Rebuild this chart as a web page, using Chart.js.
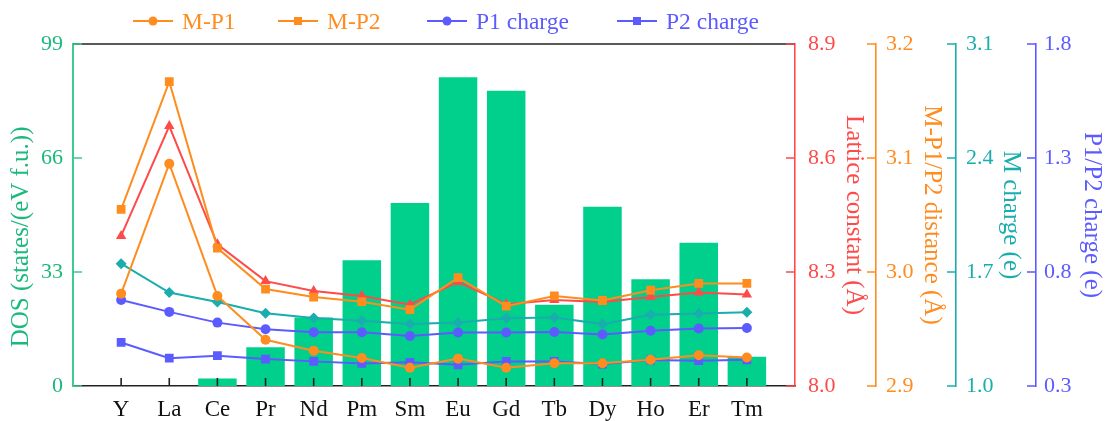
<!DOCTYPE html>
<html>
<head>
<meta charset="utf-8">
<script src="https://cdn.jsdelivr.net/npm/chart.js@4"></script>
<style>
  body { margin: 0; background: #fff; }
  #wrap { position: relative; width: 1105px; height: 421px; }
  #legend { position: absolute; left: 0; top: 0; width: 1105px; height: 44px; font-family: "Liberation Serif", "Times New Roman", serif; font-size: 23.5px; }
  .item { position: absolute; top: 8px; display: flex; align-items: center; gap: 9px; line-height: 26px; }
</style>
</head>
<body>
<div id="wrap">
  <canvas id="chart" width="1105" height="421"></canvas>
  <div id="legend"></div>
</div>
<script>
// categories and values
const categories = ['Y', 'La', 'Ce', 'Pr', 'Nd', 'Pm', 'Sm', 'Eu', 'Gd', 'Tb', 'Dy', 'Ho', 'Er', 'Tm'];
const dosValues = [null, null, 2.2, 11.2, 19.8, 36.4, 53.0, 89.4, 85.5, 23.5, 51.9, 30.9, 41.5, 8.5];
const latticeConstant = [8.395, 8.684, 8.373, 8.276, 8.250, 8.237, 8.214, 8.274, 8.215, 8.226, 8.221, 8.234, 8.246, 8.241];
const mp1Distance = [2.981, 3.095, 2.979, 2.9405, 2.931, 2.9245, 2.916, 2.924, 2.916, 2.920, 2.920, 2.923, 2.927, 2.925];
const mp2Distance = [3.055, 3.167, 3.021, 2.985, 2.978, 2.974, 2.967, 2.995, 2.970, 2.979, 2.975, 2.984, 2.990, 2.990];
const mCharge = [1.751, 1.574, 1.516, 1.447, 1.418, 1.400, 1.380, 1.390, 1.416, 1.421, 1.380, 1.437, 1.445, 1.453];
const p1Charge = [0.677, 0.625, 0.578, 0.549, 0.536, 0.536, 0.519, 0.535, 0.535, 0.537, 0.526, 0.542, 0.552, 0.554];
const p2Charge = [0.491, 0.422, 0.433, 0.418, 0.408, 0.399, 0.404, 0.393, 0.408, 0.408, 0.396, 0.414, 0.411, 0.415];

// tick labels of each axis
const dosTicks = [0, 33, 66, 99];
const latticeTicks = [8.0, 8.3, 8.6, 8.9];
const distanceTicks = [2.9, 3.0, 3.1, 3.2];
const mChargeTicks = [1.0, 1.7, 2.4, 3.1];
const pChargeTicks = [0.3, 0.8, 1.3, 1.8];

const GREEN = '#00D08C';
const GREEN_TEXT = '#1BB97C';
const GREEN_AXIS = '#3DCB8E';
const RED = '#FF4A4A';
const ORANGE = '#FF8C1F';
const TEAL = '#1AADAD';
const BLUE = '#5B5BFF';

Chart.defaults.font.family = '"Liberation Serif", "Times New Roman", serif';

// one empty slot at each end so the points sit one category in from the frame
const labels = ['', ...categories, ''];
function padded(values) {
    return [null, ...values, null];
}

function lineSet(label, values, axis, color, pointStyle, radius, order) {
    return {
        type: 'line',
        label: label,
        data: padded(values),
        yAxisID: axis,
        borderColor: color,
        backgroundColor: color,
        pointBackgroundColor: color,
        pointBorderWidth: 0,
        pointStyle: pointStyle,
        pointRadius: radius,
        borderWidth: 2,
        order: order
    };
}

function rightAxis(ticks, color, title, tickPad, titlePad) {
    return {
        position: 'right',
        min: ticks[0],
        max: ticks[ticks.length - 1],
        afterBuildTicks: scale => { scale.ticks = ticks.map(v => ({ value: v })); },
        grid: { display: false, drawTicks: false },
        border: { display: true, color: color, width: 1.6 },
        ticks: {
            color: color,
            padding: tickPad,
            font: { size: 22 },
            callback: v => v.toFixed(1)
        },
        title: {
            display: true,
            text: title,
            color: color,
            font: { size: 25, lineHeight: 1 },
            padding: titlePad
        }
    };
}

// ticks pointing into the plot, and the black top edge of the frame
const innerTicks = {
    id: 'innerTicks',
    afterDraw(chart) {
        const ctx = chart.ctx;
        const area = chart.chartArea;
        ctx.save();
        ctx.lineWidth = 1.6;
        ctx.strokeStyle = '#222';
        ctx.beginPath();
        ctx.moveTo(area.left, area.top);
        ctx.lineTo(area.right, area.top);
        ctx.stroke();
        Object.values(chart.scales).forEach(scale => {
            ctx.strokeStyle = scale.options.border.color;
            ctx.beginPath();
            scale.ticks.forEach((tick, i) => {
                if (scale.axis === 'x') {
                    if (!labels[tick.value]) return;
                    const x = scale.getPixelForTick(i);
                    ctx.moveTo(x, scale.top);
                    ctx.lineTo(x, scale.top - 8);
                } else {
                    const y = scale.getPixelForValue(tick.value);
                    const left = scale.position === 'left';
                    const x0 = left ? scale.right : scale.left;
                    ctx.moveTo(x0, y);
                    ctx.lineTo(x0 + (left ? 9 : -9), y);
                }
            });
            ctx.stroke();
        });
        ctx.restore();
    }
};

new Chart(document.getElementById('chart'), {
    type: 'bar',
    data: {
        labels: labels,
        datasets: [
            {
                type: 'bar',
                label: 'DOS',
                data: padded(dosValues),
                yAxisID: 'yDos',
                backgroundColor: GREEN,
                barPercentage: 0.8,
                categoryPercentage: 1,
                order: 10
            },
            lineSet('M charge', mCharge, 'yM', TEAL, 'rectRot', 5.5, 6),
            lineSet('P2 charge', p2Charge, 'yP', BLUE, 'rect', 6.2, 5),
            lineSet('P1 charge', p1Charge, 'yP', BLUE, 'circle', 5, 4),
            lineSet('Lattice constant', latticeConstant, 'yLat', RED, 'triangle', 6, 3),
            lineSet('M-P1', mp1Distance, 'yDist', ORANGE, 'circle', 5, 2),
            lineSet('M-P2', mp2Distance, 'yDist', ORANGE, 'rect', 6.2, 1)
        ]
    },
    options: {
        responsive: false,
        animation: false,
        devicePixelRatio: 1,
        layout: { padding: { top: 44, right: 0, bottom: 0, left: 0 } },
        plugins: {
            legend: { display: false },
            tooltip: { enabled: false }
        },
        scales: {
            x: {
                type: 'category',
                offset: false,
                grid: { display: true, drawOnChartArea: false, drawTicks: true, tickLength: 12, tickColor: 'rgba(0,0,0,0)' },
                border: { display: true, color: '#222', width: 1.6 },
                ticks: {
                    color: '#111',
                    padding: 0,
                    autoSkip: false,
                    maxRotation: 0,
                    minRotation: 0,
                    font: { size: 23, lineHeight: 1 }
                }
            },
            yDos: {
                position: 'left',
                min: dosTicks[0],
                max: dosTicks[dosTicks.length - 1],
                afterBuildTicks: scale => { scale.ticks = dosTicks.map(v => ({ value: v })); },
                grid: { display: false, drawTicks: false },
                border: { display: true, color: GREEN_AXIS, width: 2 },
                ticks: { color: GREEN_TEXT, padding: 10, font: { size: 22 } },
                title: {
                    display: true,
                    text: 'DOS (states/(eV f.u.))       ',
                    color: GREEN_TEXT,
                    font: { size: 25, lineHeight: 1 },
                    padding: { top: 8.5, bottom: -2.5 }
                }
            },
            yLat: rightAxis(latticeTicks, RED, 'Lattice constant (Å)', 13, { top: 9.5, bottom: -7 }),
            yDist: rightAxis(distanceTicks, ORANGE, 'M-P1/P2 distance (Å)', 10, { top: 11.5, bottom: -4 }),
            yM: rightAxis(mChargeTicks, TEAL, 'M charge (e)', 10, { top: 12.5, bottom: -5 }),
            yP: rightAxis(pChargeTicks, BLUE, 'P1/P2 charge (e)', 8, { top: 0.5, bottom: 0 })
        }
    },
    plugins: [innerTicks]
});

// legend row above the plot
const legendItems = [
    { text: 'M-P1', color: ORANGE, marker: 'circle', left: 133 },
    { text: 'M-P2', color: ORANGE, marker: 'square', left: 278 },
    { text: 'P1 charge', color: BLUE, marker: 'circle', left: 427 },
    { text: 'P2 charge', color: BLUE, marker: 'square', left: 617 }
];
const legend = document.getElementById('legend');
legendItems.forEach(item => {
    const mark = item.marker === 'circle'
        ? `<circle cx="20" cy="7" r="4.5" fill="${item.color}"/>`
        : `<rect x="16" y="3" width="8" height="8" fill="${item.color}"/>`;
    const div = document.createElement('div');
    div.className = 'item';
    div.style.left = item.left + 'px';
    div.style.color = item.color;
    div.innerHTML = `<svg width="40" height="14"><line x1="0" y1="7" x2="40" y2="7" stroke="${item.color}" stroke-width="2"/>${mark}</svg><span>${item.text}</span>`;
    legend.appendChild(div);
});
</script>
</body>
</html>
